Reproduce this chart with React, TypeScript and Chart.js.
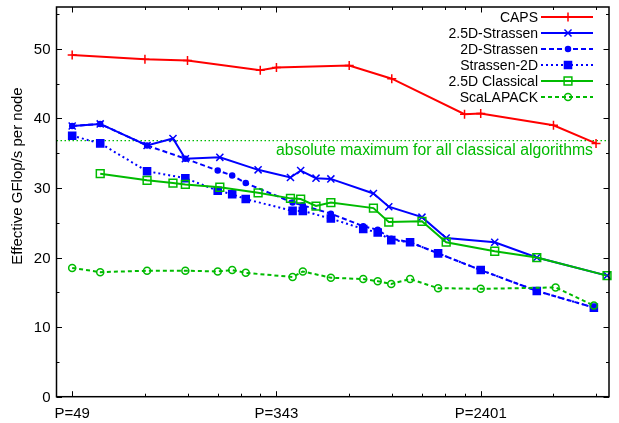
import React, { useEffect, useRef } from 'react';
import { Chart, registerables } from 'chart.js';
import { drawPoint } from 'chart.js/helpers';

Chart.register(...registerables);

// ---------- data ----------
const CAPS_P = [49, 98, 147, 294, 343, 686, 1029, 2058, 2401, 4802, 7203];
const CAPS = [49.1, 48.5, 48.3, 46.9, 47.3, 47.6, 45.7, 40.6, 40.7, 39.0, 36.4];

const S25_P = [49, 64, 100, 128, 144, 200, 288, 392, 432, 500, 576, 864, 1000, 1372, 1728, 2744, 4096, 8000];
const S25 = [38.9, 39.2, 36.1, 37.1, 34.2, 34.4, 32.6, 31.5, 32.5, 31.4, 31.3, 29.2, 27.3, 25.8, 22.8, 22.2, 20.0, 17.4];

const D2S_P = [49, 64, 100, 144, 196, 225, 256, 400, 441, 576, 784, 900, 1024, 1225, 1600, 2401, 4096, 7056];
const D2S = [38.9, 39.2, 36.1, 34.2, 32.5, 31.8, 30.7, 27.9, 27.5, 26.3, 24.5, 24.0, 22.7, 22.2, 20.6, 18.2, 15.2, 12.8];

const S2D_P = [49, 64, 100, 144, 196, 225, 256, 400, 441, 576, 784, 900, 1024, 1225, 1600, 2401, 4096, 7056];
const S2D = [37.5, 36.4, 32.4, 31.4, 29.6, 29.1, 28.4, 26.7, 26.7, 25.6, 24.1, 23.6, 22.5, 22.2, 20.6, 18.2, 15.2, 12.8];

const C25_P = [64, 100, 128, 144, 200, 288, 392, 432, 500, 576, 864, 1000, 1372, 1728, 2744, 4096, 8000];
const C25 = [32.05, 31.1, 30.7, 30.5, 30.1, 29.3, 28.5, 28.4, 27.4, 27.9, 27.1, 25.1, 25.2, 22.2, 20.9, 20.0, 17.4];

const SCA_P = [49, 64, 100, 144, 196, 225, 256, 400, 441, 576, 784, 900, 1024, 1225, 1600, 2401, 4900, 7056];
const SCA = [18.5, 17.9, 18.1, 18.1, 18.0, 18.2, 17.8, 17.2, 18.0, 17.1, 16.9, 16.6, 16.2, 16.9, 15.6, 15.5, 15.7, 13.1];

const LABELS = ['CAPS', '2.5D-Strassen', '2D-Strassen', 'Strassen-2D', '2.5D Classical', 'ScaLAPACK'];

const CLASSICAL_MAX = 36.8;
const CLASSICAL_LABEL = 'absolute maximum for all classical algorithms';

const X_MIN = 42.2;
const X_MAX = 8150;
const X_MAJOR = [49, 343, 2401];
const X_PREFIX = 'P=';
const Y_MAX = 56;
const Y_MAJOR = [0, 10, 20, 30, 40, 50];
const Y_MINOR = [5, 15, 25, 35, 45, 55];
const Y_TITLE = 'Effective GFlop/s per node';

// ---------- style ----------
const RED = '#ff0000';
const BLUE = '#0000ff';
const GREEN = '#00bb00';
const FONT = '"Liberation Sans", Arial, Helvetica, sans-serif';
const FS = 15;
const LEGEND_FS = 14;
const NOTE_FS = 15.8;

function pts(xs: number[], ys: number[]) {
  return xs.map((x, i) => ({ x, y: ys[i] }));
}

function xMinorTicks(): number[] {
  const out: number[] = [];
  for (let k = 1; k <= 4; k++) {
    for (let m = 2; m <= 6; m++) {
      const v = m * Math.pow(7, k);
      if (v >= X_MIN && v <= X_MAX) out.push(v);
    }
  }
  return out;
}

const framePlugin = {
  id: 'frame',
  beforeDatasetsDraw(chart: any) {
    const { ctx, chartArea: a, scales } = chart;
    const x = scales.x;
    const y = scales.y;
    const yy = y.getPixelForValue(CLASSICAL_MAX);
    ctx.save();
    ctx.strokeStyle = GREEN;
    ctx.lineWidth = 1.2;
    ctx.setLineDash([1.5, 2.5]);
    ctx.beginPath();
    ctx.moveTo(a.left, yy);
    ctx.lineTo(a.right, yy);
    ctx.stroke();
    ctx.setLineDash([]);
    ctx.fillStyle = GREEN;
    ctx.font = `${NOTE_FS}px ${FONT}`;
    ctx.textAlign = 'right';
    ctx.textBaseline = 'alphabetic';
    ctx.fillText(CLASSICAL_LABEL, a.right - 16, yy + 14.7);

    // tick labels
    ctx.fillStyle = '#000';
    ctx.font = `${FS}px ${FONT}`;
    ctx.textAlign = 'right';
    ctx.textBaseline = 'middle';
    for (const v of Y_MAJOR) {
      ctx.fillText(String(v), a.left - 6, y.getPixelForValue(v) + 1);
    }
    ctx.textAlign = 'center';
    ctx.textBaseline = 'alphabetic';
    for (const v of X_MAJOR) {
      ctx.fillText(X_PREFIX + v, x.getPixelForValue(v), a.bottom + 21.5);
    }

    // y title
    ctx.translate(18, 176);
    ctx.rotate(-Math.PI / 2);
    ctx.textAlign = 'center';
    ctx.textBaseline = 'middle';
    ctx.fillText(Y_TITLE, 0, 0);
    ctx.restore();
  },
  afterDatasetsDraw(chart: any) {
    const { ctx, chartArea: a, scales } = chart;
    const x = scales.x;
    const y = scales.y;
    ctx.save();
    ctx.strokeStyle = '#000';
    ctx.lineWidth = 1;
    const MAJ = 5.5;
    const MIN = 3;
    ctx.beginPath();
    for (const v of Y_MAJOR) {
      const p = Math.round(y.getPixelForValue(v)) + 0.5;
      ctx.moveTo(a.left, p); ctx.lineTo(a.left + MAJ, p);
      ctx.moveTo(a.right, p); ctx.lineTo(a.right - MAJ, p);
    }
    for (const v of Y_MINOR) {
      const p = Math.round(y.getPixelForValue(v)) + 0.5;
      ctx.moveTo(a.left, p); ctx.lineTo(a.left + MIN, p);
      ctx.moveTo(a.right, p); ctx.lineTo(a.right - MIN, p);
    }
    for (const v of X_MAJOR) {
      const p = Math.round(x.getPixelForValue(v)) + 0.5;
      ctx.moveTo(p, a.bottom); ctx.lineTo(p, a.bottom - MAJ);
      ctx.moveTo(p, a.top); ctx.lineTo(p, a.top + MAJ);
    }
    for (const v of xMinorTicks()) {
      const p = Math.round(x.getPixelForValue(v)) + 0.5;
      ctx.moveTo(p, a.bottom); ctx.lineTo(p, a.bottom - MIN);
      ctx.moveTo(p, a.top); ctx.lineTo(p, a.top + MIN);
    }
    ctx.stroke();
    ctx.lineWidth = 1.5;
    ctx.strokeRect(a.left, a.top, a.right - a.left, a.bottom - a.top);

    // legend
    ctx.font = `${LEGEND_FS}px ${FONT}`;
    ctx.textAlign = 'right';
    ctx.textBaseline = 'middle';
    chart.data.datasets.forEach((ds: any, i: number) => {
      const cy = 17 + 16 * i;
      ctx.fillStyle = '#000';
      ctx.fillText(ds.label, 538, cy + 1);
      ctx.strokeStyle = ds.borderColor;
      ctx.lineWidth = ds.borderWidth;
      ctx.setLineDash(ds.borderDash || []);
      ctx.beginPath();
      ctx.moveTo(541, cy);
      ctx.lineTo(593, cy);
      ctx.stroke();
      ctx.setLineDash([]);
      ctx.strokeStyle = ds.pointBorderColor;
      ctx.fillStyle = ds.pointBackgroundColor;
      ctx.lineWidth = ds.pointBorderWidth;
      drawPoint(ctx, { pointStyle: ds.pointStyle, radius: ds.pointRadius, borderWidth: ds.pointBorderWidth, rotation: 0 } as any, 568, cy);
    });
    ctx.restore();
  },
};

function series(
  i: number, xs: number[], ys: number[], color: string, dash: number[],
  pointStyle: string, radius: number, filled: boolean,
) {
  return {
    label: LABELS[i],
    data: pts(xs, ys),
    borderColor: color,
    borderWidth: 2,
    borderDash: dash,
    pointStyle,
    pointRadius: radius,
    pointBorderWidth: 1.5,
    pointBorderColor: color,
    pointBackgroundColor: filled ? color : 'rgba(0,0,0,0)',
    fill: false,
    tension: 0,
    clip: false,
    order: 6 - i,
  };
}

export default function App() {
  const ref = useRef<HTMLCanvasElement>(null);
  useEffect(() => {
    if (!ref.current) return;
    const chart = new Chart(ref.current, {
      type: 'line',
      data: {
        datasets: [
          series(0, CAPS_P, CAPS, RED, [], 'cross', 4.5, true),
          series(1, S25_P, S25, BLUE, [], 'crossRot', 5, true),
          series(2, D2S_P, D2S, BLUE, [5, 3], 'circle', 2.5, true),
          series(3, S2D_P, S2D, BLUE, [2, 3], 'rect', 5, true),
          series(4, C25_P, C25, GREEN, [], 'rect', 5.5, false),
          series(5, SCA_P, SCA, GREEN, [4, 3], 'circle', 3.5, false),
        ] as any,
      },
      options: {
        animation: false,
        responsive: false,
        devicePixelRatio: 1,
        layout: { padding: { top: 4, right: 10, left: 56.5, bottom: 26.3 } },
        plugins: { legend: { display: false }, tooltip: { enabled: false } },
        scales: {
          x: { type: 'logarithmic', min: X_MIN, max: X_MAX, display: false },
          y: { type: 'linear', min: 0, max: Y_MAX, display: false },
        },
      } as any,
      plugins: [framePlugin],
    });
    return () => chart.destroy();
  }, []);
  return (
    <div style={{ position: 'absolute', left: 0, top: 0, width: 619, height: 423, background: '#fff' }}>
      <canvas ref={ref} width={619} height={423} style={{ display: 'block' }} />
    </div>
  );
}
